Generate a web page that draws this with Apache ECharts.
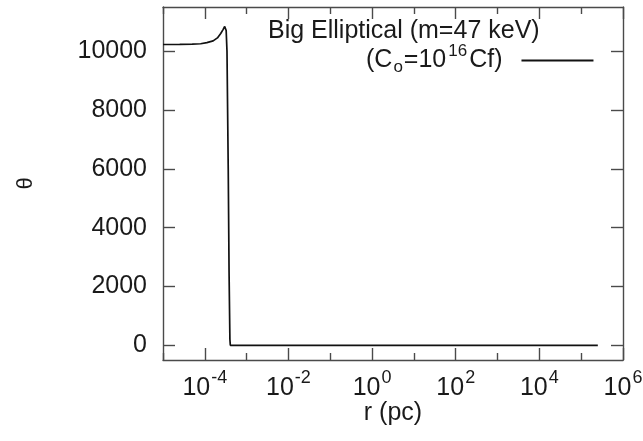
<!DOCTYPE html>
<html>
<head>
<meta charset="utf-8">
<script src="https://cdn.jsdelivr.net/npm/echarts/dist/echarts.min.js"></script>
<style>
  html, body { margin: 0; padding: 0; background: #fff; }
  #chart { width: 643px; height: 441px; }
</style>
</head>
<body>
<div id="chart"></div>
<script>
// Radius r (pc) and the corresponding theta profile
const radius = [
  1e-5, 2.51e-5, 5.01e-5, 7.94e-5, 1.12e-4, 1.58e-4, 2.0e-4, 2.4e-4, 2.75e-4,
  2.99e-4, 3.13e-4, 3.24e-4, 3.39e-4, 3.63e-4, 3.80e-4, 3.98e-4, 4.07e-4,
  1e-3, 1e-2, 1e0, 1e2, 1e4, 2.5e5
];
const theta = [
  10225, 10228, 10235, 10250, 10290, 10350, 10450, 10600, 10740,
  10840, 10850, 10700, 10000, 6000, 2500, 200, 0,
  0, 0, 0, 0, 0, 0
];

// Axis ticks
const yTicks = [0, 2000, 4000, 6000, 8000, 10000];
const xMajorTicks = [1e-4, 1e-2, 1e0, 1e2, 1e4, 1e6];
const xMinorTicks = [1e-5, 1e-3, 1e-1, 1e1, 1e3, 1e5];

const titleText = 'Big Elliptical (m=47 keV)';
const seriesName = 'Co=1e16Cf';

const FONT = '"Liberation Sans", Arial, Helvetica, sans-serif';
const TEXT = '#1a1a1a';
const AXIS = '#4a4a4a';

const chart = echarts.init(document.getElementById('chart'), null, { renderer: 'canvas' });

function logAxis(position, ticks, tickLen, showLine, withLabels) {
  const ax = {
    type: 'log',
    logBase: 10,
    min: 1e-5,
    max: 1e6,
    position: position,
    gridIndex: 0,
    axisLine: { show: showLine, onZero: false, lineStyle: { color: AXIS, width: 1.4 } },
    axisTick: { show: true, inside: true, length: tickLen, customValues: ticks,
                lineStyle: { color: AXIS, width: 1.4 } },
    axisLabel: { show: false },
    splitLine: { show: false },
    minorTick: { show: false },
    minorSplitLine: { show: false }
  };
  if (withLabels) {
    ax.axisLabel = {
      show: true,
      customValues: ticks,
      margin: 13,
      formatter: function (v) {
        const e = Math.round(Math.log10(v));
        return '{b|10}{s|' + e + '}';
      },
      rich: {
        b: { fontFamily: FONT, fontSize: 25, color: TEXT, lineHeight: 30, height: 30, verticalAlign: 'bottom' },
        s: { fontFamily: FONT, fontSize: 18, color: TEXT, lineHeight: 18, height: 11, verticalAlign: 'top', padding: [0, 0, 0, 1] }
      }
    };
    ax.name = 'r (pc)';
    ax.nameLocation = 'middle';
    ax.nameGap = 41;
    ax.nameMoveOverlap = false;
    ax.nameTextStyle = { fontFamily: FONT, fontSize: 25, color: TEXT };
  }
  return ax;
}

function linAxis(position, withLabels) {
  const ax = {
    type: 'value',
    min: -500,
    max: 11500,
    position: position,
    gridIndex: 0,
    axisLine: { show: true, onZero: false, lineStyle: { color: AXIS, width: 1.4 } },
    axisTick: { show: true, inside: true, length: 12, customValues: yTicks,
                lineStyle: { color: AXIS, width: 1.4 } },
    axisLabel: { show: false },
    splitLine: { show: false }
  };
  if (withLabels) {
    ax.axisLabel = {
      show: true,
      customValues: yTicks,
      margin: 16,
      fontFamily: FONT,
      fontSize: 25,
      color: TEXT,
      formatter: function (v) { return String(v); }
    };
    ax.name = 'θ';
    ax.nameLocation = 'middle';
    ax.nameRotate = 90;
    ax.nameGap = 126;
    ax.nameMoveOverlap = false;
    ax.nameTextStyle = { fontFamily: FONT, fontSize: 22, color: TEXT };
  }
  return ax;
}

chart.setOption({
  animation: false,
  backgroundColor: '#ffffff',
  textStyle: { fontFamily: FONT },
  grid: { left: 163, right: 20, top: 7, bottom: 81, containLabel: false, outerBoundsMode: 'none' },
  title: {
    text: titleText,
    left: 268,
    top: 19,
    padding: 0,
    textStyle: { fontFamily: FONT, fontSize: 25, fontWeight: 'normal', color: TEXT }
  },
  legend: {
    data: [{ name: seriesName, icon: 'rect' }],
    left: 366,
    top: 43,
    padding: 0,
    align: 'right',
    itemWidth: 72,
    itemHeight: 2,
    selectedMode: false,
    itemStyle: { color: '#111111' },
    formatter: function () {
      return '{n|(C}{sub|o}{n|=10}{sup|16}{n|Cf)}{gap|}';
    },
    textStyle: {
      rich: {
        n: { fontFamily: FONT, fontSize: 25, color: TEXT, lineHeight: 30, height: 30, verticalAlign: 'middle' },
        sub: { fontFamily: FONT, fontSize: 17, color: TEXT, lineHeight: 30, height: 16, verticalAlign: 'bottom', padding: [0, 1, 0, 1] },
        sup: { fontFamily: FONT, fontSize: 17, color: TEXT, lineHeight: 30, height: 12, verticalAlign: 'top', padding: [0, 2, 0, 2] },
        gap: { width: 14, lineHeight: 30 }
      }
    }
  },
  xAxis: [
    logAxis('bottom', xMajorTicks, 12, true, true),
    logAxis('bottom', xMinorTicks, 7, false, false),
    logAxis('top', xMajorTicks, 12, true, false),
    logAxis('top', xMinorTicks, 7, false, false)
  ],
  yAxis: [
    linAxis('left', true),
    linAxis('right', false)
  ],
  series: [{
    name: seriesName,
    type: 'line',
    xAxisIndex: 0,
    yAxisIndex: 0,
    data: radius.map((r, i) => [r, theta[i]]),
    showSymbol: false,
    symbol: 'none',
    lineStyle: { color: '#111111', width: 1.7 },
    itemStyle: { color: '#111111' }
  }]
});
</script>
</body>
</html>
